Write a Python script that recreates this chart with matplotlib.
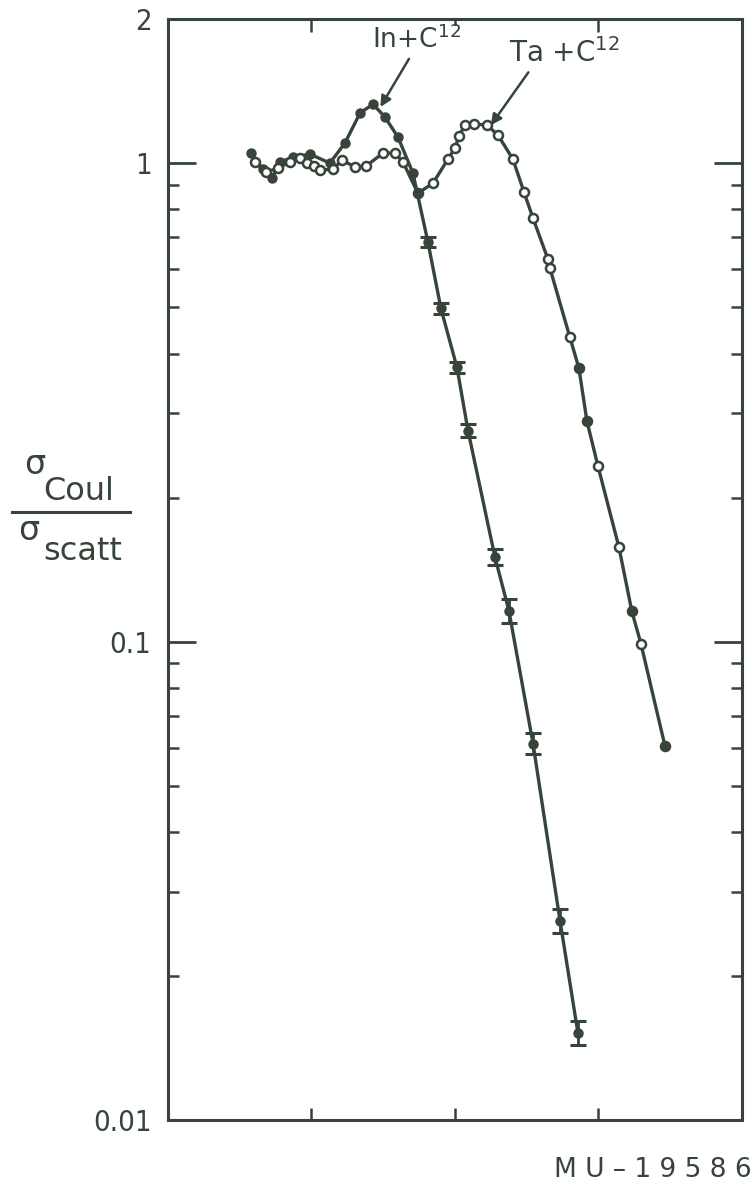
import numpy as np
import matplotlib.pyplot as plt

INK = '#36443a'

# In + C12 (filled points, error bars on the falling side)
in_x = [0.578, 0.662, 0.725, 0.780, 0.871, 0.990, 1.128, 1.233, 1.338, 1.429,
        1.512, 1.603, 1.707, 1.812, 1.902, 2.014, 2.091, 2.279, 2.376, 2.544,
        2.732, 2.857]
in_y = [1.049, 0.971, 0.930, 1.005, 1.029, 1.044, 1.000, 1.101, 1.272, 1.328,
        1.248, 1.133, 0.953, 0.683, 0.497, 0.374, 0.276, 0.150, 0.116, 0.0612,
        0.0261, 0.0152]
err_x = [1.812, 1.902, 2.014, 2.091, 2.279, 2.376, 2.544, 2.732, 2.857]
err_y = [0.683, 0.497, 0.374, 0.276, 0.150, 0.116, 0.0612, 0.0261, 0.0152]
err_f = [1.025, 1.025, 1.025, 1.03, 1.04, 1.06, 1.05, 1.06, 1.06]

# Ta + C12 (mostly open points)
ta_x = [0.606, 0.683, 0.767, 0.850, 0.920, 0.969, 1.017, 1.059, 1.150, 1.213,
        1.303, 1.380, 1.498, 1.582, 1.638, 1.742, 1.847, 1.951, 2.000, 2.028,
        2.070, 2.132, 2.223, 2.300, 2.404, 2.481, 2.544, 2.648, 2.662, 2.801,
        2.864, 2.920, 2.997, 3.143, 3.233, 3.296, 3.463]
ta_y = [1.005, 0.958, 0.976, 1.005, 1.024, 1.000, 0.986, 0.967, 0.971, 1.015,
        0.981, 0.986, 1.049, 1.049, 1.005, 0.865, 0.908, 1.019, 1.075, 1.139,
        1.201, 1.207, 1.201, 1.144, 1.019, 0.870, 0.767, 0.630, 0.603, 0.4325,
        0.3725, 0.2886, 0.2324, 0.1573, 0.1156, 0.0990, 0.0606]
ta_filled = [0, 0, 0, 0, 0, 0, 0, 0, 0, 0, 0, 0, 0, 0, 0, 1, 0, 0, 0, 0,
             0, 0, 0, 0, 0, 0, 0, 0, 0, 0, 1, 1, 0, 0, 1, 0, 1]

plt.rcParams['font.family'] = ['DejaVu Sans']

fig = plt.figure(figsize=(7.54, 11.93), dpi=100)
ax = fig.add_axes([0.2228, 0.0612, 0.7612, 0.9228])
ax.set_yscale('log')
ax.set_xlim(0, 4)
ax.set_ylim(0.01, 2)

ax.plot(in_x, in_y, color=INK, lw=2.4, marker='o', ms=6.5, mfc=INK, mec=INK)
lo = [y - y / f for y, f in zip(err_y, err_f)]
hi = [y * f - y for y, f in zip(err_y, err_f)]
ax.errorbar(err_x, err_y, yerr=[lo, hi], fmt='none', ecolor=INK,
            elinewidth=2, capsize=6, capthick=2.2)

ax.plot(ta_x, ta_y, color=INK, lw=2.4)
for x, y, f in zip(ta_x, ta_y, ta_filled):
    ax.plot(x, y, marker='o', ms=6.5, mec=INK, mew=1.8,
            mfc=INK if f else 'white')

box = dict(facecolor='white', edgecolor='none', pad=0)
t1 = ax.annotate('In+C$^{12}$', xy=(1.48, 1.31), xytext=(1.42, 1.81),
                 fontsize=19, color=INK, ha='left', va='center', bbox=box,
                 arrowprops=dict(arrowstyle='-|>', color=INK, lw=1.8,
                                 mutation_scale=16, shrinkA=4, shrinkB=0,
                                 relpos=(0.45, 0.0)))
t2 = ax.annotate('Ta +C$^{12}$', xy=(2.25, 1.2), xytext=(2.38, 1.70),
                 fontsize=20, color=INK, ha='left', va='center', bbox=box,
                 arrowprops=dict(arrowstyle='-|>', color=INK, lw=1.8,
                                 mutation_scale=16, shrinkA=4, shrinkB=0,
                                 relpos=(0.2, 0.0)))
t1.set_zorder(2.6)
t2.set_zorder(2.6)

ax.set_xticks([1, 2, 3])
ax.set_xticklabels([])
ax.set_yticks([0.01, 0.1, 1, 2])
ax.set_yticklabels(['0.01', '0.1', '1', '2'])
ax.tick_params(axis='y', which='major', direction='in', length=20, width=2,
               left=True, right=True, labelsize=21, labelcolor=INK,
               color=INK, pad=12)
for lab in ax.get_yticklabels():
    lab.set_fontstretch('condensed')
    lab.set_fontweight('light')
ax.tick_params(axis='y', which='minor', direction='in', length=8, width=1.8,
               left=True, right=True, color=INK)
ax.tick_params(axis='x', which='major', direction='in', length=9, width=1.8,
               top=True, bottom=True, color=INK)
for s in ax.spines.values():
    s.set_color(INK)
    s.set_linewidth(2.2)
    s.set_zorder(3)

# y axis label as a hand-set fraction
fig.text(0.032, 0.611, '\u03c3', fontsize=24, color=INK, ha='left', va='center')
fig.text(0.058, 0.588, 'Coul', fontsize=23, color=INK, ha='left', va='center')
fig.add_artist(plt.Line2D([0.016, 0.172], [0.571, 0.571], color=INK, lw=2.2))
fig.text(0.024, 0.555, '\u03c3', fontsize=24, color=INK, ha='left', va='center')
fig.text(0.058, 0.538, 'scatt', fontsize=23, color=INK, ha='left', va='center')

fig.text(0.997, 0.008, 'M U \u2013 1 9 5 8 6', fontsize=19, color=INK,
         ha='right', va='bottom')

fig.savefig('out.png', dpi=100, facecolor='white')
